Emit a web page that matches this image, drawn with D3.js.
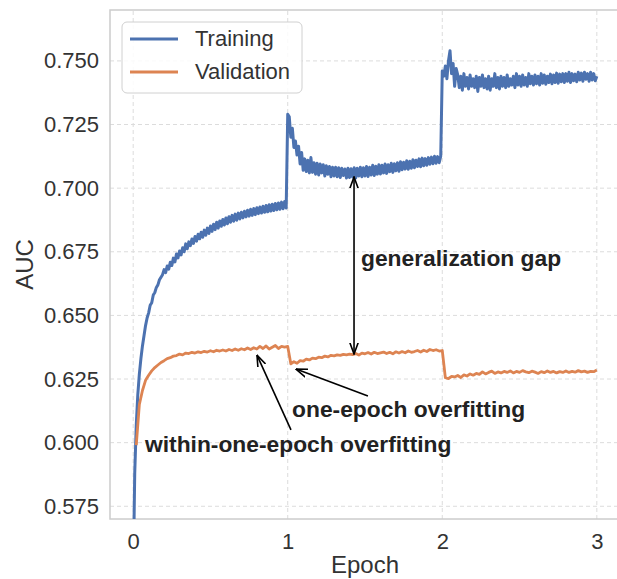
<!DOCTYPE html>
<html>
<head>
<meta charset="utf-8">
<script src="https://cdn.jsdelivr.net/npm/d3@7"></script>
<style>
  body { margin: 0; background: #fff; }
  text { font-family: "Liberation Sans", Arial, sans-serif; }
</style>
</head>
<body>
<div id="chart"></div>
<script>
// Training AUC, one value every 0.01 epoch (0.00 .. 3.00)
const trainStep = 0.01;
const trainAuc = [
  0.545, 0.588, 0.607, 0.619, 0.627, 0.633, 0.638, 0.642, 0.646, 0.649,
  0.651, 0.654, 0.655, 0.658, 0.659, 0.661, 0.662, 0.664, 0.665, 0.666,
  0.6680, 0.6668, 0.6694, 0.6682, 0.6709, 0.6696, 0.6725, 0.6710, 0.6741, 0.6726,
  0.6753, 0.6738, 0.6766, 0.6750, 0.6781, 0.6762, 0.6789, 0.6774, 0.6800, 0.6783,
  0.6810, 0.6792, 0.6819, 0.6801, 0.6827, 0.6807, 0.6835, 0.6815, 0.6843, 0.6822,
  0.6851, 0.6830, 0.6858, 0.6837, 0.6866, 0.6843, 0.6871, 0.6850, 0.6877, 0.6855,
  0.6883, 0.6860, 0.6888, 0.6866, 0.6893, 0.6870, 0.6898, 0.6874, 0.6902, 0.6879,
  0.6905, 0.6883, 0.6909, 0.6887, 0.6913, 0.6890, 0.6917, 0.6893, 0.6920, 0.6896,
  0.6923, 0.6900, 0.6926, 0.6902, 0.6929, 0.6905, 0.6932, 0.6907, 0.6935, 0.6910,
  0.6937, 0.6912, 0.6940, 0.6915, 0.6942, 0.6917, 0.6945, 0.6919, 0.6947, 0.6922,
  0.7290, 0.7280, 0.7200, 0.7235, 0.7160, 0.7185, 0.7130, 0.7165, 0.7095, 0.7140,
  0.7070, 0.7115, 0.7065, 0.7110, 0.7060, 0.7120, 0.7062, 0.7100, 0.7055, 0.7098,
  0.7052, 0.7095, 0.7060, 0.7092, 0.7048, 0.7088, 0.7055, 0.7085, 0.7045, 0.7082,
  0.7048, 0.7082, 0.7045, 0.7080, 0.7042, 0.7078, 0.7050, 0.7075, 0.7040, 0.7078,
  0.7042, 0.7076, 0.7044, 0.7080, 0.7040, 0.7078, 0.7048, 0.7082, 0.7045, 0.7080,
  0.7048, 0.7085, 0.7046, 0.7082, 0.7052, 0.7090, 0.7050, 0.7086, 0.7055, 0.7092,
  0.7056, 0.7090, 0.7060, 0.7095, 0.7058, 0.7092, 0.7065, 0.7098, 0.7062, 0.7096,
  0.7068, 0.7100, 0.7066, 0.7104, 0.7072, 0.7102, 0.7075, 0.7108, 0.7074, 0.7106,
  0.7078, 0.7112, 0.7080, 0.7110, 0.7085, 0.7115, 0.7084, 0.7118, 0.7088, 0.7116,
  0.7090, 0.7120, 0.7094, 0.7122, 0.7096, 0.7125, 0.7098, 0.7124, 0.7100, 0.7126,
  0.7460, 0.7440, 0.7480, 0.7430, 0.7500, 0.7540, 0.7450, 0.7490, 0.7400, 0.7470,
  0.7445, 0.7395, 0.7440, 0.7385, 0.7450, 0.7400, 0.7435, 0.7390, 0.7445, 0.7400,
  0.7430, 0.7395, 0.7440, 0.7380, 0.7435, 0.7400, 0.7445, 0.7395, 0.7430, 0.7390,
  0.7440, 0.7385, 0.7430, 0.7400, 0.7450, 0.7395, 0.7435, 0.7390, 0.7440, 0.7400,
  0.7435, 0.7395, 0.7445, 0.7400, 0.7430, 0.7405, 0.7440, 0.7395, 0.7450, 0.7405,
  0.7440, 0.7400, 0.7445, 0.7405, 0.7435, 0.7400, 0.7450, 0.7410, 0.7440, 0.7405,
  0.7445, 0.7410, 0.7440, 0.7405, 0.7450, 0.7412, 0.7445, 0.7408, 0.7440, 0.7415,
  0.7448, 0.7410, 0.7445, 0.7415, 0.7452, 0.7412, 0.7448, 0.7418, 0.7450, 0.7415,
  0.7450, 0.7420, 0.7455, 0.7415, 0.7450, 0.7422, 0.7448, 0.7418, 0.7455, 0.7425,
  0.7452, 0.7420, 0.7455, 0.7428, 0.7450, 0.7420, 0.7455, 0.7425, 0.7450, 0.7422,
  0.7440
];

// Validation AUC, one value every 0.02 epoch (0.02 .. 3.00)
const valStart = 0.02;
const valStep = 0.02;
const valAuc = [
  0.5990, 0.6150, 0.6205, 0.6245, 0.6265, 0.6282, 0.6295, 0.6305, 0.6315, 0.6322,
  0.6330, 0.6334, 0.6340, 0.6342, 0.6348, 0.6345, 0.6352, 0.6350, 0.6355, 0.6352,
  0.6357, 0.6354, 0.6359, 0.6356, 0.6361, 0.6357, 0.6363, 0.6360, 0.6364, 0.6360,
  0.6366, 0.6362, 0.6368, 0.6363, 0.6369, 0.6365, 0.6372, 0.6366, 0.6373, 0.6368,
  0.6378, 0.6370, 0.6380, 0.6368, 0.6375, 0.6382, 0.6370, 0.6378, 0.6375, 0.6378,
  0.6310, 0.6318, 0.6312, 0.6322, 0.6320, 0.6328, 0.6325, 0.6332, 0.6330, 0.6336,
  0.6334, 0.6340, 0.6337, 0.6343, 0.6341, 0.6345, 0.6343, 0.6347, 0.6345, 0.6348,
  0.6346, 0.6350, 0.6344, 0.6352, 0.6349, 0.6354, 0.6348, 0.6355, 0.6350, 0.6353,
  0.6356, 0.6350, 0.6355, 0.6349, 0.6357, 0.6352, 0.6358, 0.6353, 0.6360, 0.6355,
  0.6358, 0.6362, 0.6356, 0.6363, 0.6358, 0.6366, 0.6362, 0.6365, 0.6360, 0.6362,
  0.6255, 0.6252, 0.6260, 0.6258, 0.6264, 0.6256, 0.6266, 0.6262, 0.6270, 0.6265,
  0.6272, 0.6268, 0.6278, 0.6270, 0.6276, 0.6281, 0.6272, 0.6278, 0.6274, 0.6280,
  0.6276, 0.6282, 0.6274, 0.6280, 0.6276, 0.6283, 0.6278, 0.6275, 0.6281, 0.6277,
  0.6272, 0.6279, 0.6275, 0.6282, 0.6276, 0.6280, 0.6274, 0.6279, 0.6276, 0.6282,
  0.6276, 0.6280, 0.6277, 0.6283, 0.6278, 0.6281, 0.6276, 0.6280, 0.6279, 0.6285
];

const xTicks = [0, 1, 2, 3];
const yTicks = [0.575, 0.600, 0.625, 0.650, 0.675, 0.700, 0.725, 0.750];
const seriesNames = ["Training", "Validation"];
const seriesColors = ["#4c72b0", "#dd8452"];

// annotations: text anchor and arrows [from, to] in data units
const gapArrow = { x: 1.429, y0: 0.7044, y1: 0.6348 };
const notes = [
  { label: "generalization gap", tx: 1.474, ty: 0.6694 },
  { label: "one-epoch overfitting", tx: 1.028, ty: 0.6101, from: [1.519, 0.6183], to: [1.0535, 0.6289] },
  { label: "within-one-epoch overfitting", tx: 0.0765, ty: 0.5963, from: [1.021, 0.6050], to: [0.801, 0.6344] }
];

const width = 617, height = 579;
const margin = { left: 110, right: -3, top: 10, bottom: 60 };

const svg = d3.select("#chart").append("svg")
  .attr("width", width)
  .attr("height", height);

const x = d3.scaleLinear().domain([-0.15, 3.15]).range([margin.left, width - margin.right]);
const y = d3.scaleLinear().domain([0.570, 0.770]).range([height - margin.bottom, margin.top]);

const defs = svg.append("defs");
defs.append("clipPath").attr("id", "clip")
  .append("rect")
  .attr("x", x.range()[0]).attr("y", y.range()[1])
  .attr("width", x.range()[1] - x.range()[0])
  .attr("height", y.range()[0] - y.range()[1]);

// grid
const grid = svg.append("g");
grid.selectAll(".gx").data(xTicks).enter().append("line")
  .attr("x1", d => x(d)).attr("x2", d => x(d))
  .attr("y1", y.range()[0]).attr("y2", y.range()[1])
  .attr("stroke", "#dcdcdc").attr("stroke-width", 1).attr("stroke-dasharray", "4,3");
grid.selectAll(".gy").data(yTicks).enter().append("line")
  .attr("y1", d => y(d)).attr("y2", d => y(d))
  .attr("x1", x.range()[0]).attr("x2", x.range()[1])
  .attr("stroke", "#dcdcdc").attr("stroke-width", 1).attr("stroke-dasharray", "4,3");

// spines
svg.append("rect")
  .attr("x", x.range()[0]).attr("y", y.range()[1])
  .attr("width", x.range()[1] - x.range()[0])
  .attr("height", y.range()[0] - y.range()[1])
  .attr("fill", "none").attr("stroke", "#cccccc").attr("stroke-width", 1.5);

// axes
const xAxis = svg.append("g")
  .attr("transform", `translate(0,${y.range()[0]})`)
  .call(d3.axisBottom(x).tickValues(xTicks).tickFormat(d3.format("d")).tickSize(0).tickPadding(14));
const yAxis = svg.append("g")
  .attr("transform", `translate(${x.range()[0]},0)`)
  .call(d3.axisLeft(y).tickValues(yTicks).tickFormat(d3.format(".3f")).tickSize(0).tickPadding(11));
[xAxis, yAxis].forEach(a => {
  a.select(".domain").remove();
  a.selectAll("text")
    .style("font-family", "'Liberation Sans', Arial, sans-serif")
    .style("font-size", "22px")
    .attr("fill", "#333");
});
xAxis.selectAll("text").attr("dy", "0.71em");

svg.append("text")
  .attr("x", (x.range()[0] + x.range()[1]) / 2)
  .attr("y", 573)
  .attr("text-anchor", "middle")
  .style("font-size", "24px")
  .attr("fill", "#333")
  .text("Epoch");
svg.append("text")
  .attr("transform", `translate(33,${(y.range()[0] + y.range()[1]) / 2}) rotate(-90)`)
  .attr("text-anchor", "middle")
  .style("font-size", "24px")
  .attr("fill", "#333")
  .text("AUC");

// lines
const line = d3.line().x(d => x(d[0])).y(d => y(d[1]));
const trainData = trainAuc.map((v, i) => [i * trainStep, v]);
const valData = valAuc.map((v, i) => [valStart + i * valStep, v]);

const plot = svg.append("g").attr("clip-path", "url(#clip)");
plot.append("path").datum(trainData)
  .attr("d", line).attr("fill", "none")
  .attr("stroke", seriesColors[0]).attr("stroke-width", 3).attr("stroke-linejoin", "round");
plot.append("path").datum(valData)
  .attr("d", line).attr("fill", "none")
  .attr("stroke", seriesColors[1]).attr("stroke-width", 2.8).attr("stroke-linejoin", "round");

// arrow heads
defs.append("marker").attr("id", "head")
  .attr("viewBox", "0 0 12 10").attr("refX", 11.5).attr("refY", 5)
  .attr("markerWidth", 12).attr("markerHeight", 10)
  .attr("markerUnits", "userSpaceOnUse")
  .attr("orient", "auto-start-reverse")
  .append("path").attr("d", "M0,0.8 L11.5,5 L0,9.2")
  .attr("fill", "none").attr("stroke", "#000").attr("stroke-width", 1.6);

svg.append("line")
  .attr("x1", x(gapArrow.x)).attr("x2", x(gapArrow.x))
  .attr("y1", y(gapArrow.y0)).attr("y2", y(gapArrow.y1))
  .attr("stroke", "#000").attr("stroke-width", 1.6)
  .attr("marker-start", "url(#head)").attr("marker-end", "url(#head)");

notes.filter(d => d.from).forEach(d => {
  svg.append("line")
    .attr("x1", x(d.from[0])).attr("y1", y(d.from[1]))
    .attr("x2", x(d.to[0])).attr("y2", y(d.to[1]))
    .attr("stroke", "#000").attr("stroke-width", 1.6)
    .attr("marker-end", "url(#head)");
});

svg.selectAll(".note").data(notes).enter().append("text")
  .attr("class", "note")
  .attr("x", d => x(d.tx)).attr("y", d => y(d.ty))
  .style("font-size", "22.8px").style("font-weight", "bold")
  .attr("fill", "#222")
  .text(d => d.label);

// legend
const legend = svg.append("g").attr("transform", "translate(122,22)");
legend.append("rect")
  .attr("width", 180).attr("height", 71).attr("rx", 5)
  .attr("fill", "#fff").attr("fill-opacity", 0.85)
  .attr("stroke", "#d0d0d0").attr("stroke-width", 1);
legend.selectAll(".ll").data(seriesNames).enter().append("line")
  .attr("x1", 8).attr("x2", 56)
  .attr("y1", (d, i) => 17 + i * 33).attr("y2", (d, i) => 17 + i * 33)
  .attr("stroke", (d, i) => seriesColors[i]).attr("stroke-width", 3);
legend.selectAll(".lt").data(seriesNames).enter().append("text")
  .attr("x", 73).attr("y", (d, i) => 24 + i * 33)
  .style("font-size", "22px").attr("fill", "#333")
  .text(d => d);
</script>
</body>
</html>
